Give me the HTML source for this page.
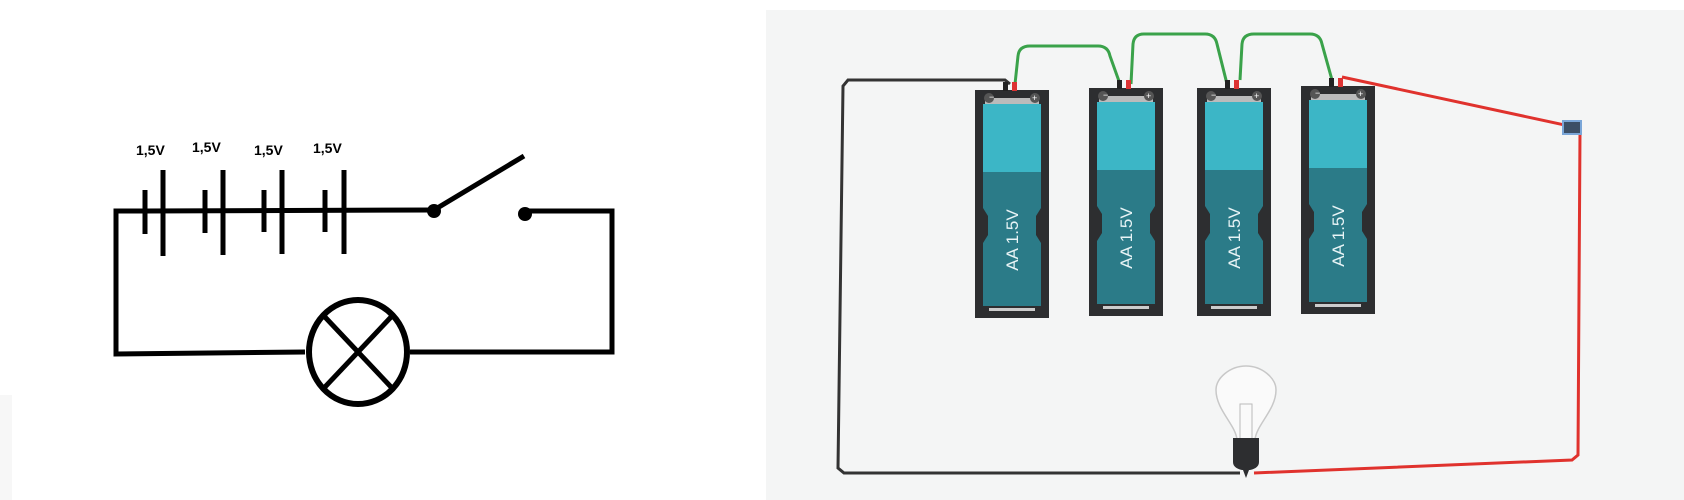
<!DOCTYPE html>
<html><head><style>html,body{margin:0;padding:0;background:#fff}svg{display:block}</style></head>
<body>
<svg width="1684" height="500" viewBox="0 0 1684 500" xmlns="http://www.w3.org/2000/svg" font-family="Liberation Sans, sans-serif">
<rect width="1684" height="500" fill="#fff"/>
<!-- left schematic -->
<g stroke="#000" fill="none" stroke-linecap="butt">
<polyline points="145,211 116,211 116,354 305,352" stroke-width="5"/>
<polyline points="410,352 612,352 612,211 525,211" stroke-width="5"/>
<line x1="145" y1="211" x2="434" y2="210" stroke-width="5"/>
<line x1="434" y1="210" x2="524" y2="156" stroke-width="5"/>
<g stroke-width="5">
<line x1="163" y1="170" x2="163" y2="256"/><line x1="223" y1="170" x2="223" y2="255"/><line x1="282" y1="170" x2="282" y2="254"/><line x1="344" y1="170" x2="344" y2="254"/>
<line x1="145" y1="190" x2="145" y2="234"/><line x1="205" y1="190" x2="205" y2="233"/><line x1="264" y1="190" x2="264" y2="232"/><line x1="325" y1="190" x2="325" y2="232"/>
</g>
<ellipse cx="358" cy="352" rx="49" ry="52" stroke-width="6" fill="#fff"/>
<line x1="324" y1="316" x2="392" y2="388" stroke-width="5"/>
<line x1="392" y1="316" x2="324" y2="388" stroke-width="5"/>
</g>
<circle cx="434" cy="211" r="7" fill="#000"/><circle cx="525" cy="214" r="7" fill="#000"/>
<g font-size="14" font-weight="bold" fill="#000">
<text x="136" y="155">1,5V</text><text x="192" y="152">1,5V</text><text x="254" y="155">1,5V</text><text x="313" y="153">1,5V</text>
</g>
<!-- right panel -->
<rect x="766" y="10" width="918" height="490" fill="#f4f5f5"/>
<rect x="0" y="395" width="12" height="105" fill="#f7f7f7"/>
<!-- wires -->
<polyline points="1010,84 1005,80 848,80 843,86 838,468 844,473 1240,473" fill="none" stroke="#333" stroke-width="3"/>
<polyline points="1342,77 1574,127 1580,132 1578,455 1572,460 1254,473" fill="none" stroke="#e0322d" stroke-width="3"/>
<g fill="none" stroke="#3aa24a" stroke-width="3">
<path d="M1015,84 L1018,56 Q1019,46 1030,46 L1098,46 Q1108,46 1110,56 L1120,84"/>
<path d="M1131,84 L1133,44 Q1134,34 1144,34 L1205,34 Q1215,34 1217,44 L1227,84"/>
<path d="M1240,80 L1242,44 Q1243,34 1254,34 L1310,34 Q1320,34 1322,44 L1332,80"/>
</g>
<!-- batteries -->
<defs>
<g id="bat">
<rect x="0" y="0" width="74" height="228" fill="#2d2e30"/>
<path d="M8,14 H66 V82 H8 Z" fill="#3cb6c6"/>
<path d="M8,82 H66 V118 L61,126 V145 L66,153 V216 H8 V153 L13,145 V126 L8,118 Z" fill="#2b7b88"/>
<rect x="10" y="8" width="54" height="6" fill="#bbb"/>
<rect x="14" y="218" width="46" height="3" fill="#ccc"/>
<circle cx="14" cy="8" r="5" fill="#555"/><circle cx="60" cy="8" r="5" fill="#555"/>
<text x="14" y="10" fill="#fff" font-size="9">−</text><text x="57" y="11" fill="#fff" font-size="9">+</text>
<text transform="translate(43,150) rotate(-90)" text-anchor="middle" fill="#e8f4f6" font-size="17">AA 1.5V</text>
<rect x="28" y="-8" width="5" height="9" fill="#222"/><rect x="37" y="-8" width="5" height="9" fill="#d33"/>
</g>
</defs>
<use href="#bat" x="975" y="90"/>
<use href="#bat" x="1089" y="88"/>
<use href="#bat" x="1197" y="88"/>
<use href="#bat" x="1301" y="86"/>
<!-- switch icon -->
<rect x="1563" y="121" width="18" height="13" fill="#3c4f66" stroke="#7aa6d8" stroke-width="2"/>
<!-- bulb -->
<path d="M1237,440 C1236,425 1216,410 1216,390 C1216,378 1230,366 1246,366 C1262,366 1276,378 1276,390 C1276,410 1256,425 1255,440 Z" fill="#fafafa" stroke="#c8c8c8" stroke-width="1.5"/>
<path d="M1240,438 L1240,404 L1252,404 L1252,438" fill="none" stroke="#bbb" stroke-width="1"/>
<path d="M1233,438 H1259 V462 Q1259,468 1250,470 H1242 Q1233,468 1233,462 Z" fill="#2d2e30"/>
<path d="M1243,470 L1246,478 L1249,470 Z" fill="#2d2e30"/>
</svg>
</body></html>
